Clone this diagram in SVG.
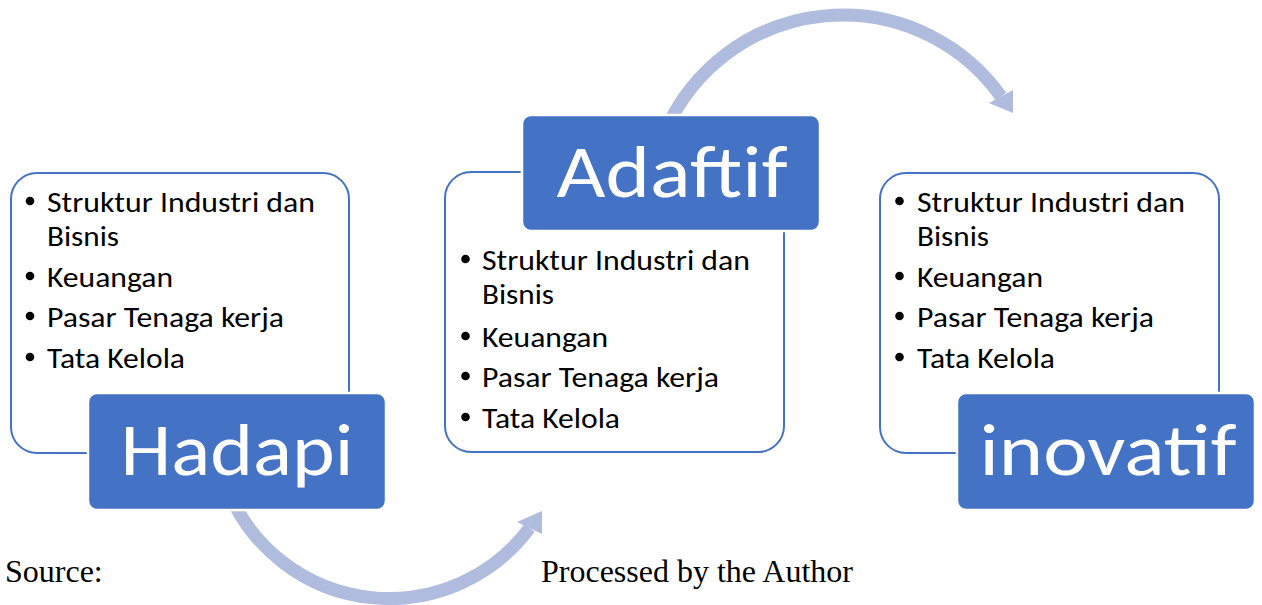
<svg xmlns="http://www.w3.org/2000/svg" width="1262" height="605" viewBox="0 0 1262 605">
<defs>
<style>
.list{fill:#ffffff;stroke:#4472C4;stroke-width:2}
.label{fill:#4472C4;stroke:#ffffff;stroke-width:2.5}
.bt{font-family:Carlito,Lato,"Open Sans",sans-serif;font-size:29px;fill:#000000}
.lt{font-family:Carlito,Lato,"Open Sans",sans-serif;font-size:74px;fill:#ffffff;text-anchor:middle}
.arc{fill:none;stroke:#B0BCDE;stroke-width:13;stroke-linecap:butt}
.head{fill:#B0BCDE}
.src{font-family:"Liberation Serif","Times New Roman",serif;font-size:32px;fill:#000000}
</style>
</defs>
<rect width="1262" height="605" fill="#ffffff"/>
<g id="connectors">
<path class="arc" d="M 667.2 127 A 194 194 0 0 1 1001 96.5"/>
<polygon class="head" points="989,103 1013,90 1013,113"/>
<path class="arc" d="M 231.2 497.8 A 174.5 174.5 0 0 0 529.5 528"/>
<polygon class="head" points="517,522 542,511 542,534"/>
</g>
<g id="node-hadapi">
<rect class="list" x="11" y="173" width="338" height="280" rx="26"/>
<circle cx="30" cy="201" r="4.3"/>
<text class="bt" x="47" y="212" textLength="268" lengthAdjust="spacingAndGlyphs">Struktur Industri dan</text>
<text class="bt" x="47" y="246" textLength="72" lengthAdjust="spacingAndGlyphs">Bisnis</text>
<circle cx="30" cy="276" r="4.3"/>
<text class="bt" x="47" y="287" textLength="126" lengthAdjust="spacingAndGlyphs">Keuangan</text>
<circle cx="30" cy="316" r="4.3"/>
<text class="bt" x="47" y="327" textLength="237" lengthAdjust="spacingAndGlyphs">Pasar Tenaga kerja</text>
<circle cx="30" cy="357" r="4.3"/>
<text class="bt" x="47" y="368" textLength="138" lengthAdjust="spacingAndGlyphs">Tata Kelola</text>
<rect class="label" x="88" y="393" width="298" height="117" rx="9"/>
<text class="lt" x="237" y="475" textLength="233" lengthAdjust="spacingAndGlyphs">Hadapi</text>
</g>
<g id="node-adaftif">
<rect class="list" x="445" y="172" width="339" height="280" rx="26"/>
<circle cx="465.5" cy="259" r="4.3"/>
<text class="bt" x="482" y="270" textLength="268" lengthAdjust="spacingAndGlyphs">Struktur Industri dan</text>
<text class="bt" x="482" y="304" textLength="72" lengthAdjust="spacingAndGlyphs">Bisnis</text>
<circle cx="465.5" cy="336" r="4.3"/>
<text class="bt" x="482" y="347" textLength="126" lengthAdjust="spacingAndGlyphs">Keuangan</text>
<circle cx="465.5" cy="376" r="4.3"/>
<text class="bt" x="482" y="387" textLength="237" lengthAdjust="spacingAndGlyphs">Pasar Tenaga kerja</text>
<circle cx="465.5" cy="417" r="4.3"/>
<text class="bt" x="482" y="428" textLength="138" lengthAdjust="spacingAndGlyphs">Tata Kelola</text>
<rect class="label" x="522" y="115" width="298" height="116" rx="9"/>
<text class="lt" x="672" y="197" textLength="231" lengthAdjust="spacingAndGlyphs">Adaftif</text>
</g>
<g id="node-inovatif">
<rect class="list" x="880" y="173" width="339" height="280" rx="26"/>
<circle cx="899.5" cy="201" r="4.3"/>
<text class="bt" x="917" y="212" textLength="268" lengthAdjust="spacingAndGlyphs">Struktur Industri dan</text>
<text class="bt" x="917" y="246" textLength="72" lengthAdjust="spacingAndGlyphs">Bisnis</text>
<circle cx="899.5" cy="276" r="4.3"/>
<text class="bt" x="917" y="287" textLength="126" lengthAdjust="spacingAndGlyphs">Keuangan</text>
<circle cx="899.5" cy="316" r="4.3"/>
<text class="bt" x="917" y="327" textLength="237" lengthAdjust="spacingAndGlyphs">Pasar Tenaga kerja</text>
<circle cx="899.5" cy="357" r="4.3"/>
<text class="bt" x="917" y="368" textLength="138" lengthAdjust="spacingAndGlyphs">Tata Kelola</text>
<rect class="label" x="957" y="393" width="298" height="117" rx="9"/>
<text class="lt" x="1108" y="475" textLength="257" lengthAdjust="spacingAndGlyphs">inovatif</text>
</g>
<g id="caption">
<text class="src" x="5" y="582">Source:</text>
<text class="src" x="541" y="582">Processed by the Author</text>
</g>
</svg>
